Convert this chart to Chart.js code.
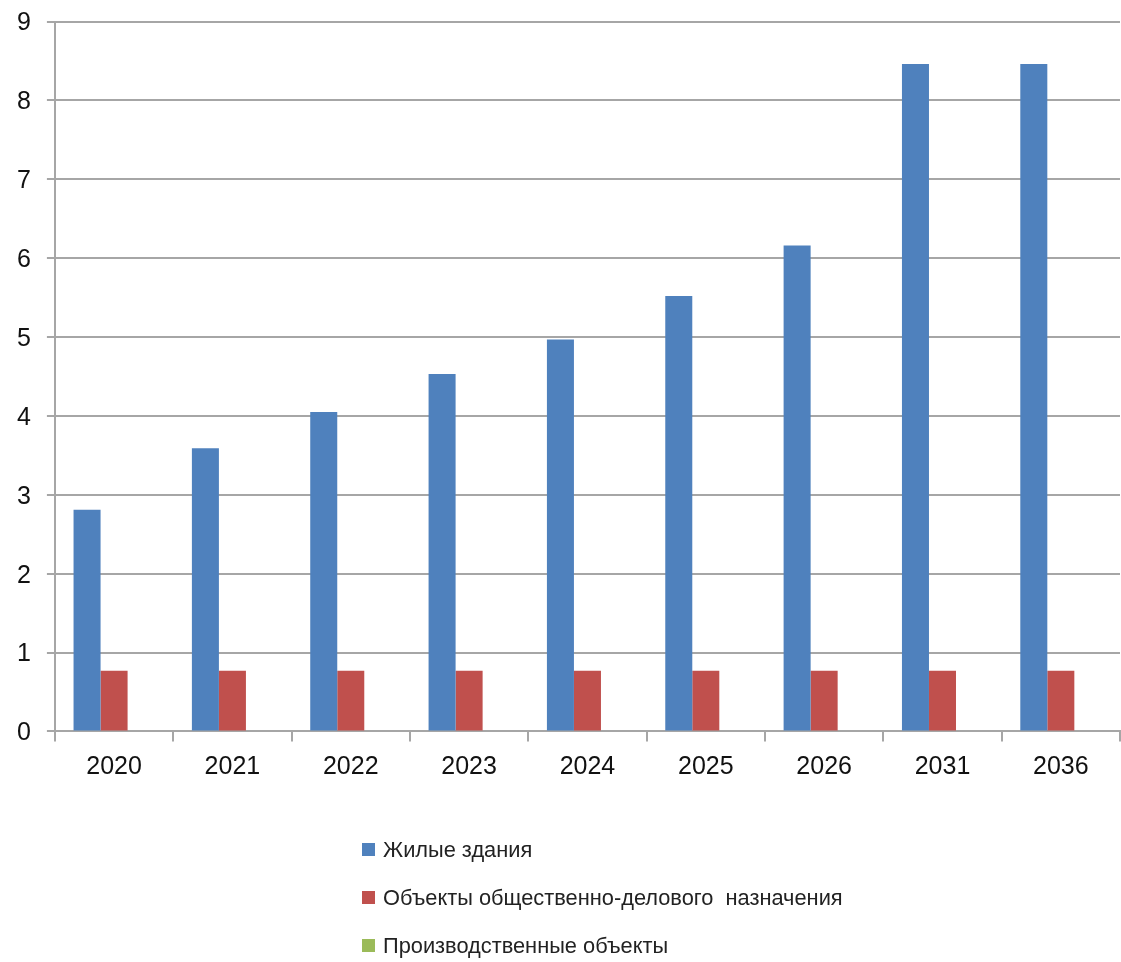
<!DOCTYPE html>
<html lang="ru">
<head>
<meta charset="utf-8">
<title>Динамика по годам</title>
<script src="https://cdn.jsdelivr.net/npm/chart.js@4/dist/chart.umd.min.js"></script>
<style>
  html, body { margin: 0; padding: 0; background: #fff; }
  #wrap { width: 1121px; height: 962px; position: relative; }
</style>
</head>
<body>
<div id="wrap"><canvas id="grafik" width="1121" height="962"></canvas></div>
<script>
// годы
var gody = ["2020", "2021", "2022", "2023", "2024", "2025", "2026", "2031", "2036"];

// значения по сериям
var zhilye        = [2.81, 3.59, 4.05, 4.53, 4.97, 5.52, 6.16, 8.46, 8.46];
var obshchDelovye = [0.77, 0.77, 0.77, 0.77, 0.77, 0.77, 0.77, 0.77, 0.77];
var proizvodstv   = [0, 0, 0, 0, 0, 0, 0, 0, 0];

var nazvaniya = ["Жилые здания", "Объекты общественно-делового  назначения", "Производственные объекты"];
var cveta     = ["#4F81BD", "#C0504D", "#9BBB59"];

var shrift = "'Liberation Sans', Arial, sans-serif";

// легенда в столбик под графиком
var legendaStolbik = {
  id: "legendaStolbik",
  afterDraw: function(chart) {
    var ctx = chart.ctx;
    ctx.save();
    ctx.font = "21.8px " + shrift;
    ctx.textBaseline = "middle";
    chart.data.datasets.forEach(function(ds, i) {
      var y = 850 + i * 48;
      ctx.fillStyle = ds.backgroundColor;
      ctx.fillRect(362, y - 7, 13, 13);
      ctx.fillStyle = "#222";
      ctx.fillText(ds.label, 383, y + 1);
    });
    ctx.restore();
  }
};

new Chart(document.getElementById("grafik"), {
  type: "bar",
  data: {
    labels: gody,
    datasets: [
      { label: nazvaniya[0], data: zhilye,        backgroundColor: cveta[0] },
      { label: nazvaniya[1], data: obshchDelovye, backgroundColor: cveta[1] },
      { label: nazvaniya[2], data: proizvodstv,   backgroundColor: cveta[2] }
    ]
  },
  options: {
    responsive: false,
    animation: false,
    categoryPercentage: 0.685,
    barPercentage: 1,
    layout: { padding: { top: 0, left: 1, right: 1, bottom: 168.6 } },
    plugins: {
      legend: { display: false },
      tooltip: { enabled: false }
    },
    scales: {
      x: {
        grid: { drawOnChartArea: false, drawTicks: true, tickLength: 10, color: "#a6a6a6", lineWidth: 2 },
        border: { color: "#a6a6a6", width: 2 },
        ticks: { color: "#111", padding: 11, font: { family: shrift, size: 25 } }
      },
      y: {
        min: 0,
        max: 9,
        grid: { color: "#a6a6a6", lineWidth: 2, tickLength: 8 },
        border: { color: "#a6a6a6", width: 2 },
        ticks: { stepSize: 1, color: "#111", padding: 16, labelOffset: 2, font: { family: shrift, size: 25, lineHeight: 0.44 } }
      }
    }
  },
  plugins: [legendaStolbik]
});
</script>
</body>
</html>
